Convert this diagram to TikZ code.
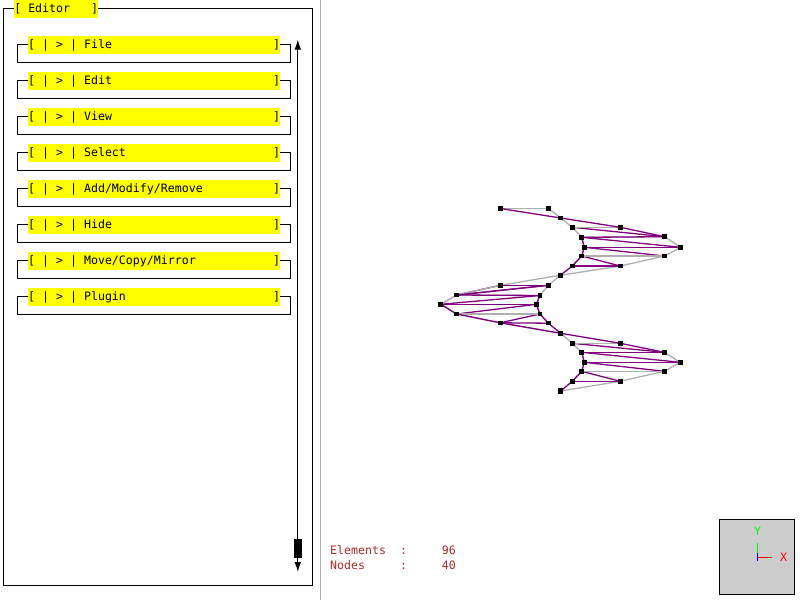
\documentclass[tikz,border=0pt]{standalone}
\usepackage{fontspec}
\setmonofont{DejaVu Sans Mono}
\usetikzlibrary{arrows.meta,backgrounds}
\definecolor{barYellow}{RGB}{255,255,0}
\definecolor{statRed}{RGB}{178,40,40}
\definecolor{meshPurple}{RGB}{128,0,128}
\definecolor{meshGrey}{RGB}{175,175,175}
\tikzset{
  uitext/.style={font=\fontsize{11.6}{12}\ttfamily},
  menubar/.style={uitext, fill=barYellow, minimum height=18pt, inner sep=0pt, text width=252pt, align=flush left},
  meshnode/.style={fill=black, inner sep=0pt, minimum size=4.5pt},
  meshend/.style={fill=black, inner sep=0pt, minimum size=5.5pt},
  outline/.style={draw=black, line width=1pt},
  edgegrey/.style={draw=meshGrey, line width=1.3pt},
  edgepurple/.style={draw=meshPurple, line width=1.3pt}
}

\begin{document}
\begin{tikzpicture}[x=1pt, y=-1pt]
  \useasboundingbox (0,0) rectangle (800,600);
  % editor panel
  \draw[outline] (3.5,8.5) rectangle (312,585);
  \node[uitext, fill=barYellow, minimum width=84pt, minimum height=18pt, inner sep=0pt, anchor=north west] (editor) at (14,0) {[ Editor~~~]};
  \foreach \i/\name in {0/File, 1/Edit, 2/View, 3/Select, 4/Add\slash Modify\slash Remove, 5/Hide, 6/Move\slash Copy\slash Mirror, 7/Plugin} {
    \node[menubar, anchor=west] (bar\i) at (28,45+36*\i) {[ | > | \name\hfill]};
    \draw[outline] (bar\i.west) ++(0,-1) -- ++(-10.5,0) -- ++(0,18.5) -- ++(273,0) -- ++(0,-18.5) -- (bar\i.east |- 0,44+36*\i);
  }
  % scroll bar
  \node[fill=black, minimum width=8pt, minimum height=18.5pt, inner sep=0pt, anchor=north] (thumb) at (297.8,539) {};
  \coordinate (scrollup) at (297.8,39.5);
  \coordinate (scrolldown) at (297.8,572);
  \draw[line width=1pt, -{Latex[length=10pt,width=6.5pt]}] (thumb.north) -- (scrollup);
  \draw[line width=1pt, -{Latex[length=10pt,width=6.5pt]}] (thumb.south) -- (scrolldown);
  % divider
  \draw[meshGrey, line width=1pt] (320.5,0) -- (320.5,600);
  % statistics
  \node[uitext, text=statRed, anchor=west, inner sep=0pt] (elements) at (330,550) {Elements~~:~~~~~96};
  \node[uitext, text=statRed, anchor=west, inner sep=0pt] (nodes) at (330,565) {Nodes~~~~~:~~~~~40};
  % axis triad
  \node[draw=black, line width=1pt, fill=black!20, minimum size=75pt, inner sep=0pt, anchor=north west] (triad) at (719,519) {};
  \coordinate (origin) at (757.5,557.5);
  \node[uitext, text=green, inner sep=0pt] (ylabel) at (757.5,531) {Y};
  \node[uitext, text=red, inner sep=0pt] (xlabel) at (783.5,557.5) {X};
  \coordinate (yend) at (757.5,543);
  \coordinate (xend) at (771.7,557.5);
  \draw[green, line width=1pt] (origin) -- (yend);
  \draw[red, line width=1pt] (origin) -- (xend);
  \draw[blue, line width=1pt] (757.5,553) -- (757.5,561);
  % mesh nodes
  \foreach \name/\x/\y in {
    ti1/560.7/218, ti2/572.3/227.3, ti3/581.7/237.3, ti4/584.3/247.3, ti5/581.7/256, ti6/572.3/266, ti7/560.3/275.3,
    to1/620.3/227.3, to2/664.7/236.7, to3/680.7/247.3, to4/664.7/256, to5/620.3/266,
    mi1/560.3/275.3, mi2/548.3/285.3, mi3/540/295.5, mi4/536.3/304.3, mi5/540/314, mi6/548.3/323.2, mi7/560.7/333.3,
    mo1/500.3/285.3, mo2/456.7/295, mo3/440.7/304.3, mo4/456.7/314, mo5/500.3/322.8,
    bi1/560.7/333.3, bi2/572.3/343.3, bi3/581.7/352.3, bi4/584.3/362.3, bi5/581.7/371.3, bi6/572.3/381.3, bi7/560.7/391,
    bo1/620.3/343.3, bo2/664.3/352.3, bo3/680.3/362.3, bo4/664.3/371.3, bo5/620.3/381.3,
    start/500.3/208.5}
    \node[meshnode] (\name) at (\x,\y) {};
  \node[meshend] (corner) at (548.3,208.5) {};
  \node[meshend] (midend) at (560.3,275.3) {};
  \node[meshend] (lastend) at (560.7,391) {};
  % mesh edges
  \begin{scope}[on background layer]
    \foreach \s in {t,m,b} {
      \foreach \a/\b in {i1/i2, i2/i3, i3/i4, i4/i5, i5/i6, i3/o2, o2/o3, o3/o4, o4/o5, o5/i7}
        \draw[edgegrey] (\s\a.center) -- (\s\b.center);
      \foreach \a/\b in {o1/o2, i2/o2, i3/o2, i3/o3, i4/o3, i4/o4, i5/o4, i5/o5, i6/o5, i6/i7, i5/i6, i4/i5, i3/i4}
        \draw[edgepurple] (\s\a.center) -- (\s\b.center);
      \draw[edgegrey] (\s i5.center) -- (\s o4.center);
    }
    \foreach \a/\b in {ti2/to1, bi2/bo1, mi1/mo1, mo1/mo2, mo2/mo3, start/corner, corner/ti1}
      \draw[edgegrey] (\a.center) -- (\b.center);
    \foreach \a/\b in {ti1/to1, bi1/bo1, mi2/mo1, mo5/mi7, mo4/mo5, mo3/mo4, start/ti1, mi2/mo2}
      \draw[edgepurple] (\a.center) -- (\b.center);
  \end{scope}
\end{tikzpicture}
\end{document}
